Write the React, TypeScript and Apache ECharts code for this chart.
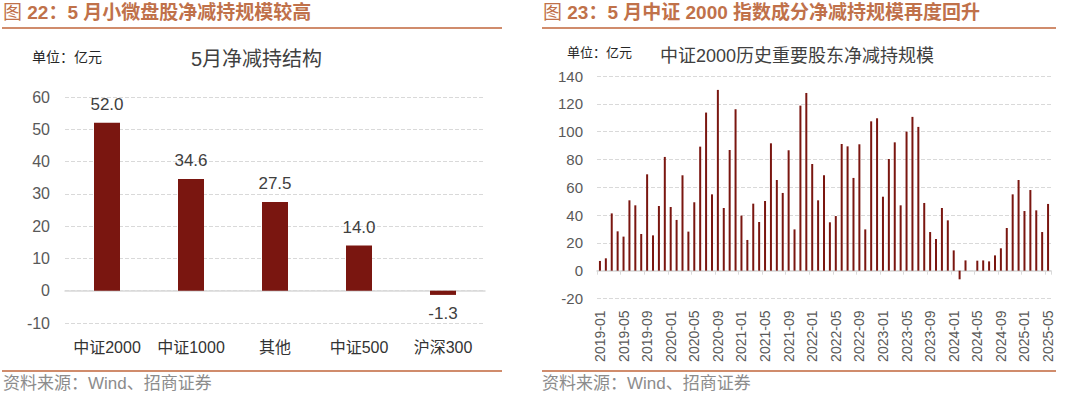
import React, { useEffect, useRef } from "react";
import * as echarts from "echarts";

const leftCategories = ["中证2000", "中证1000", "其他", "中证500", "沪深300"];
const leftValues = [52.0, 34.6, 27.5, 14.0, -1.3];

const monthLabels: string[] = [];
for (let y = 2019; y <= 2025; y++) {
  for (let m = 1; m <= 12; m++) {
    if (y === 2025 && m > 5) break;
    monthLabels.push(`${y}-${m < 10 ? "0" + m : m}`);
  }
}
const rightValues = [
  7.0, 8.9, 41.2, 28.3, 24.5, 50.6, 47.0, 26.4, 69.3, 25.4,
  46.5, 81.8, 45.8, 36.5, 68.6, 28.1, 49.2, 89.2, 113.7, 54.9,
  130.0, 45.1, 86.8, 116.1, 39.6, 22.1, 48.2, 35.0, 50.1, 91.6,
  65.2, 55.9, 86.6, 29.7, 118.7, 127.8, 76.7, 50.6, 68.6, 34.8,
  39.3, 91.1, 89.4, 66.7, 90.9, 29.7, 107.4, 109.6, 53.2, 80.3,
  92.3, 47.0, 100.0, 110.6, 103.4, 48.7, 27.8, 22.8, 45.1, 36.2,
  14.6, -6.2, 7.4, 0, 7.2, 7.4, 6.7, 11.0, 16.1, 30.7,
  54.9, 65.2, 42.9, 58.0, 43.4, 27.8, 48.0,
];

const FONT = "'Liberation Sans', 'Noto Sans CJK SC', sans-serif";
const BAR = "#7a1610";
const TITLE_C = "#c0714a";
const LINE_C = "#d08c6c";
const GRID_C = "#d9d9d9";
const AXIS_TXT = "#595959";

export default function App() {
  const ref = useRef<HTMLDivElement>(null);
  useEffect(() => {
    if (!ref.current) return;
    const chart = echarts.init(ref.current, null, { renderer: "svg" });
    const titleText = (x: number, num: string, rest: string) => ({
      type: "text",
      left: x,
      top: 3,
      style: {
        text: `{a|图 }{b|${num}}{c|${rest}}`,
        rich: {
          a: { fontSize: 19, fontFamily: FONT, fill: TITLE_C, fontWeight: "normal" },
          b: { fontSize: 19, fontFamily: FONT, fill: TITLE_C, fontWeight: "bold" },
          c: { fontSize: 19, fontFamily: FONT, fill: TITLE_C, fontWeight: "bold" },
        },
      },
    });
    chart.setOption({
      animation: false,
      textStyle: { fontFamily: FONT },
      graphic: [
        titleText(3, "22：5", " 月小微盘股净减持规模较高"),
        titleText(543, "23：5", " 月中证 2000 指数成分净减持规模再度回升"),
        { type: "line", shape: { x1: 2, y1: 28, x2: 502, y2: 28 }, style: { stroke: LINE_C, lineWidth: 2 } },
        { type: "line", shape: { x1: 542, y1: 28, x2: 1056, y2: 28 }, style: { stroke: LINE_C, lineWidth: 2 } },
        { type: "line", shape: { x1: 2, y1: 371, x2: 502, y2: 371 }, style: { stroke: LINE_C, lineWidth: 2 } },
        { type: "line", shape: { x1: 542, y1: 371, x2: 1056, y2: 371 }, style: { stroke: LINE_C, lineWidth: 2 } },
        { type: "text", left: 3, top: 375, style: { text: "资料来源：Wind、招商证券", fontSize: 17, fontFamily: FONT, fill: "#8c8c8c" } },
        { type: "text", left: 542, top: 375, style: { text: "资料来源：Wind、招商证券", fontSize: 17, fontFamily: FONT, fill: "#8c8c8c" } },
        { type: "text", left: 32, top: 50, style: { text: "单位：亿元", fontSize: 14, fontFamily: FONT, fill: "#262626" } },
        { type: "text", left: 567, top: 46, style: { text: "单位：亿元", fontSize: 13, fontFamily: FONT, fill: "#262626" } },
        { type: "text", left: 191, top: 49, style: { text: "5月净减持结构", fontSize: 20, fontFamily: FONT, fill: "#404040" } },
        { type: "text", left: 660, top: 47, style: { text: "中证2000历史重要股东净减持规模", fontSize: 18, fontFamily: FONT, fill: "#404040" } },
      ],
      grid: [
        { left: 65, top: 97, width: 420, height: 226 },
        { left: 597, top: 76, width: 454, height: 222.5 },
      ],
      xAxis: [
        {
          type: "category",
          gridIndex: 0,
          data: leftCategories,
          axisLine: { onZero: true, lineStyle: { color: GRID_C, width: 1.5 } },
          axisTick: { show: false },
          axisLabel: { interval: 0, margin: 16, fontSize: 16, color: "#333333", fontFamily: FONT },
        },
        {
          type: "category",
          gridIndex: 1,
          data: monthLabels,
          axisLine: { onZero: true, lineStyle: { color: GRID_C, width: 1.5 } },
          axisTick: { show: true, interval: 3, length: 4, lineStyle: { color: GRID_C } },
          axisLabel: { interval: 3, rotate: 90, margin: 12, fontSize: 14, color: AXIS_TXT, fontFamily: FONT },
        },
      ],
      yAxis: [
        {
          type: "value",
          gridIndex: 0,
          min: -10,
          max: 60,
          interval: 10,
          axisLine: { show: false },
          axisTick: { show: false },
          splitLine: { lineStyle: { color: GRID_C, type: "dashed" } },
          axisLabel: { margin: 15, fontSize: 16, color: AXIS_TXT, fontFamily: FONT },
        },
        {
          type: "value",
          gridIndex: 1,
          min: -20,
          max: 140,
          interval: 20,
          axisLine: { show: false },
          axisTick: { show: false },
          splitLine: { lineStyle: { color: GRID_C, type: "dashed" } },
          axisLabel: { margin: 14, fontSize: 15, color: AXIS_TXT, fontFamily: FONT },
        },
      ],
      series: [
        {
          type: "bar",
          xAxisIndex: 0,
          yAxisIndex: 0,
          data: leftValues.map((v) => ({
            value: v,
            label: { position: v < 0 ? "bottom" : "top" },
          })),
          barWidth: 26,
          itemStyle: { color: BAR },
          label: {
            show: true,
            distance: 10,
            fontSize: 17,
            color: "#404040",
            fontFamily: FONT,
            formatter: (p: any) => Number(p.value).toFixed(1),
          },
        },
        {
          type: "bar",
          xAxisIndex: 1,
          yAxisIndex: 1,
          data: rightValues,
          barWidth: 2,
          itemStyle: { color: BAR },
        },
      ],
    });
    return () => chart.dispose();
  }, []);
  return (
    <div
      ref={ref}
      style={{ position: "fixed", left: 0, top: 0, width: 1080, height: 397, background: "#fff" }}
    />
  );
}
